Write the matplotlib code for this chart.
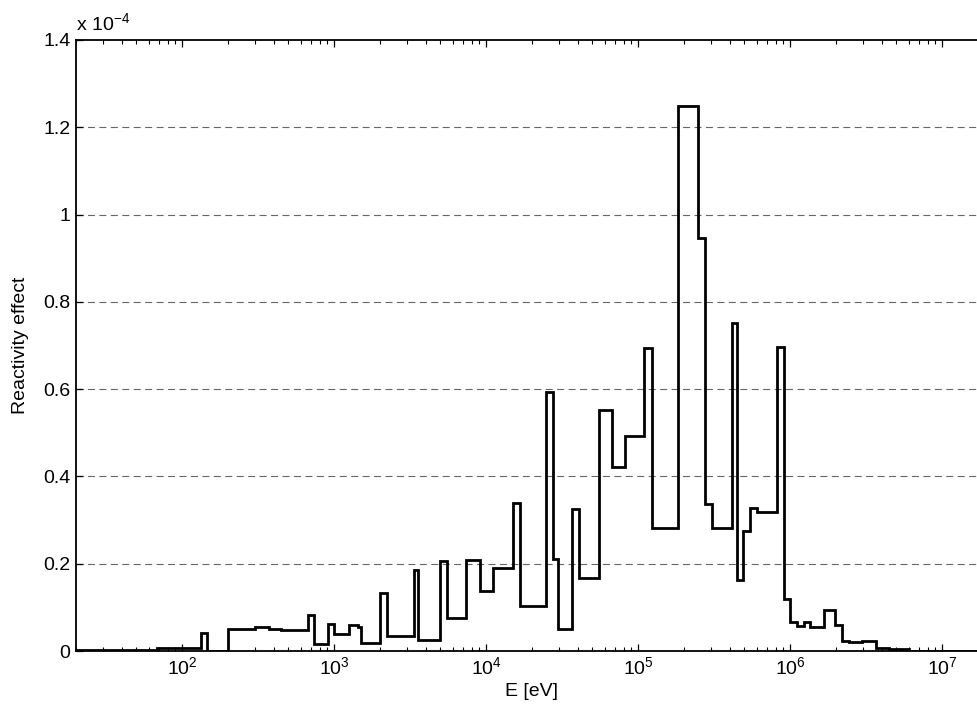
import matplotlib
matplotlib.use("Agg")
import matplotlib.pyplot as plt
from matplotlib.ticker import LogLocator, NullFormatter, FixedLocator

plt.rcParams['font.family'] = ['Liberation Sans', 'DejaVu Sans']
plt.rcParams['mathtext.fontset'] = 'custom'
plt.rcParams['mathtext.rm'] = 'Liberation Sans'
plt.rcParams['mathtext.it'] = 'Liberation Sans'

# group boundaries [eV]
edges = [20, 68, 133, 145, 199, 302, 373, 446, 667, 738, 904, 1000, 1242,
         1423, 1505, 2008, 2222, 3357, 3533, 4980, 5510, 7340, 9040, 11070,
         14990, 16560, 24830, 27470, 29460, 36640, 40480, 54800, 67100,
         82100, 109400, 123000, 182000, 247500, 273000, 303500, 411000,
         448500, 491000, 544000, 602000, 817000, 914000, 1.0e6, 1.107e6,
         1.224e6, 1.355e6, 1.657e6, 1.98e6, 2.2e6, 2.42e6, 2.96e6, 3.68e6,
         4.44e6, 6.0e6, 2.0e7]

# reactivity effect per group, in units of 1e-4
values = [0.002, 0.007, 0.042, 0.0, 0.050, 0.056, 0.050, 0.047, 0.083,
          0.015, 0.062, 0.038, 0.060, 0.056, 0.018, 0.134, 0.035, 0.186,
          0.025, 0.207, 0.075, 0.208, 0.138, 0.190, 0.340, 0.102, 0.593,
          0.211, 0.050, 0.325, 0.167, 0.552, 0.422, 0.492, 0.694, 0.282,
          1.249, 0.946, 0.337, 0.282, 0.752, 0.162, 0.275, 0.327, 0.318,
          0.697, 0.120, 0.066, 0.058, 0.066, 0.055, 0.093, 0.060, 0.024,
          0.020, 0.024, 0.008, 0.004, 0.001]

yticks = [0, 0.2, 0.4, 0.6, 0.8, 1.0, 1.2, 1.4]
ytickLabels = ['0', '0.2', '0.4', '0.6', '0.8', '1', '1.2', '1.4']
xticks = [1e2, 1e3, 1e4, 1e5, 1e6, 1e7]
xtickLabels = [r'$10^{2}$', r'$10^{3}$', r'$10^{4}$', r'$10^{5}$',
               r'$10^{6}$', r'$10^{7}$']

W, H = 978, 715
fig = plt.figure(figsize=(W / 100, H / 100), dpi=100)
left, right, top, bottom = 76, 988, 40, 651
ax = fig.add_axes([left / W, 1 - bottom / H, (right - left) / W, (bottom - top) / H])

# dashed horizontal grid
for yv in yticks[1:-1]:
    ax.axhline(yv, color='0.4', linestyle=(0, (6.3, 4)), linewidth=0.8, zorder=1)

ax.stairs(values, edges, baseline=None, color='black', linewidth=2.0, zorder=3)

ax.set_xscale('log')
ax.set_xlim(20, 2e7)
ax.set_ylim(0, 1.4)

ax.xaxis.set_major_locator(FixedLocator(xticks))
ax.set_xticklabels(xtickLabels)
ax.xaxis.set_minor_locator(LogLocator(base=10, subs=range(2, 10), numticks=20))
ax.xaxis.set_minor_formatter(NullFormatter())
ax.set_yticks(yticks)
ax.set_yticklabels(ytickLabels)

ax.tick_params(which='both', direction='in', top=True, right=True,
               labelsize=14, color='black')
ax.tick_params(which='major', length=5, width=0.9, pad=4)
ax.tick_params(which='minor', length=3, width=0.8)
for sp in ax.spines.values():
    sp.set_linewidth(1.3)

ax.set_xlabel('E [eV]', fontsize=14, labelpad=3)
ax.set_ylabel('Reactivity effect', fontsize=14, labelpad=10)
ax.text(0.0, 1.01, r'x 10$^{-4}$', transform=ax.transAxes, fontsize=14,
        ha='left', va='bottom')

fig.savefig('out.png', dpi=100)
